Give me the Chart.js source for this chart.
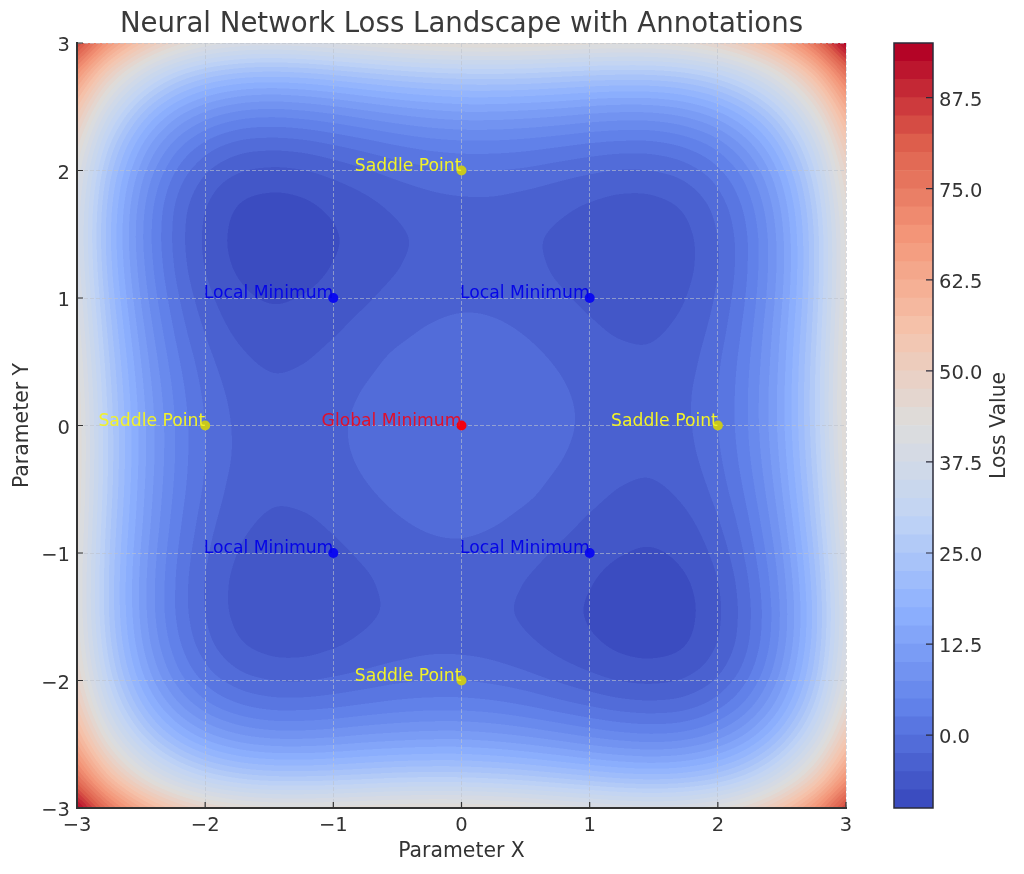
<!DOCTYPE html>
<html>
<head>
<meta charset="utf-8">
<title>Neural Network Loss Landscape</title>
<script src="https://cdn.jsdelivr.net/npm/chart.js@4/dist/chart.umd.min.js"></script>
<style>
  html, body { margin: 0; background: #fff; }
  canvas { position: absolute; left: 0; top: 0; }
</style>
</head>
<body>
<canvas id="landscape" width="1024" height="874"></canvas>
<canvas id="colorbar" width="1024" height="874"></canvas>
<script>
// loss values, one row per y (top row is y = 3), left to right x = -3..3
const gridX = [-3, -2.75, -2.5, -2.25, -2, -1.75, -1.5, -1.25, -1, -0.75, -0.5, -0.25, 0, 0.25, 0.5, 0.75, 1, 1.25, 1.5, 1.75, 2, 2.25, 2.5, 2.75, 3];
const gridY = [3, 2.75, 2.5, 2.25, 2, 1.75, 1.5, 1.25, 1, 0.75, 0.5, 0.25, 0, -0.25, -0.5, -0.75, -1, -1.25, -1.5, -1.75, -2, -2.25, -2.5, -2.75, -3];
const lossGrid = [
  [85.5,67.8,55.3,47.0,42.0,39.5,38.8,39.3,40.5,41.9,43.3,44.4,45.0,45.1,44.8,44.2,43.5,43.1,43.3,44.8,48.0,53.8,62.8,76.1,94.5],
  [67.8,50.1,37.6,29.2,24.2,21.7,20.9,21.4,22.6,24.0,25.3,26.3,26.9,27.0,26.7,26.0,25.3,24.9,25.1,26.5,29.7,35.4,44.4,57.7,76.1],
  [55.3,37.6,25.0,16.6,11.6,9.0,8.2,8.7,9.8,11.2,12.5,13.5,14.1,14.1,13.7,13.1,12.3,11.8,12.0,13.4,16.6,22.3,31.2,44.4,62.8],
  [47.0,29.2,16.6,8.2,3.1,0.5,-0.2,0.2,1.3,2.6,3.9,4.9,5.4,5.4,5.0,4.3,3.5,3.0,3.1,4.5,7.6,13.3,22.3,35.4,53.8],
  [42.0,24.2,11.6,3.1,-2.0,-4.6,-5.4,-5.1,-4.0,-2.7,-1.4,-0.5,0,0,-0.4,-1.2,-2.0,-2.6,-2.4,-1.1,2.0,7.6,16.6,29.7,48.0],
  [39.5,21.7,9.0,0.5,-4.6,-7.3,-8.1,-7.8,-6.7,-5.5,-4.2,-3.3,-2.9,-2.9,-3.4,-4.1,-5.0,-5.6,-5.5,-4.2,-1.1,4.5,13.4,26.5,44.8],
  [38.8,20.9,8.2,-0.2,-5.4,-8.1,-9.0,-8.7,-7.7,-6.4,-5.3,-4.4,-3.9,-4.0,-4.5,-5.3,-6.2,-6.8,-6.8,-5.5,-2.4,3.1,12.0,25.1,43.3],
  [39.3,21.4,8.7,0.2,-5.1,-7.8,-8.7,-8.4,-7.4,-6.2,-5.1,-4.2,-3.8,-3.9,-4.4,-5.3,-6.2,-6.8,-6.8,-5.6,-2.6,3.0,11.8,24.9,43.1],
  [40.5,22.6,9.8,1.3,-4.0,-6.7,-7.7,-7.4,-6.5,-5.3,-4.2,-3.4,-3.0,-3.1,-3.7,-4.6,-5.5,-6.2,-6.2,-5.0,-2.0,3.5,12.3,25.3,43.5],
  [41.9,24.0,11.2,2.6,-2.7,-5.5,-6.4,-6.2,-5.3,-4.1,-3.1,-2.3,-1.9,-2.1,-2.7,-3.6,-4.6,-5.3,-5.3,-4.1,-1.2,4.3,13.1,26.0,44.2],
  [43.3,25.3,12.5,3.9,-1.4,-4.2,-5.3,-5.1,-4.2,-3.1,-2.0,-1.3,-0.9,-1.1,-1.8,-2.7,-3.7,-4.4,-4.5,-3.4,-0.4,5.0,13.7,26.7,44.8],
  [44.4,26.3,13.5,4.9,-0.5,-3.3,-4.4,-4.2,-3.4,-2.3,-1.3,-0.5,-0.3,-0.5,-1.1,-2.1,-3.1,-3.9,-4.0,-2.9,0,5.4,14.1,27.0,45.1],
  [45.0,26.9,14.1,5.4,0,-2.9,-3.9,-3.8,-3.0,-1.9,-0.9,-0.3,0,-0.3,-0.9,-1.9,-3.0,-3.8,-3.9,-2.9,0,5.4,14.1,26.9,45.0],
  [45.1,27.0,14.1,5.4,0,-2.9,-4.0,-3.9,-3.1,-2.1,-1.1,-0.5,-0.3,-0.5,-1.3,-2.3,-3.4,-4.2,-4.4,-3.3,-0.5,4.9,13.5,26.3,44.4],
  [44.8,26.7,13.7,5.0,-0.4,-3.4,-4.5,-4.4,-3.7,-2.7,-1.8,-1.1,-0.9,-1.3,-2.0,-3.1,-4.2,-5.1,-5.3,-4.2,-1.4,3.9,12.5,25.3,43.3],
  [44.2,26.0,13.1,4.3,-1.2,-4.1,-5.3,-5.3,-4.6,-3.6,-2.7,-2.1,-1.9,-2.3,-3.1,-4.1,-5.3,-6.2,-6.4,-5.5,-2.7,2.6,11.2,24.0,41.9],
  [43.5,25.3,12.3,3.5,-2.0,-5.0,-6.2,-6.2,-5.5,-4.6,-3.7,-3.1,-3.0,-3.4,-4.2,-5.3,-6.5,-7.4,-7.7,-6.7,-4.0,1.3,9.8,22.6,40.5],
  [43.1,24.9,11.8,3.0,-2.6,-5.6,-6.8,-6.8,-6.2,-5.3,-4.4,-3.9,-3.8,-4.2,-5.1,-6.2,-7.4,-8.4,-8.7,-7.8,-5.1,0.2,8.7,21.4,39.3],
  [43.3,25.1,12.0,3.1,-2.4,-5.5,-6.8,-6.8,-6.2,-5.3,-4.5,-4.0,-3.9,-4.4,-5.3,-6.4,-7.7,-8.7,-9.0,-8.1,-5.4,-0.2,8.2,20.9,38.8],
  [44.8,26.5,13.4,4.5,-1.1,-4.2,-5.5,-5.6,-5.0,-4.1,-3.4,-2.9,-2.9,-3.3,-4.2,-5.5,-6.7,-7.8,-8.1,-7.3,-4.6,0.5,9.0,21.7,39.5],
  [48.0,29.7,16.6,7.6,2.0,-1.1,-2.4,-2.6,-2.0,-1.2,-0.4,0,0,-0.5,-1.4,-2.7,-4.0,-5.1,-5.4,-4.6,-2.0,3.1,11.6,24.2,42.0],
  [53.8,35.4,22.3,13.3,7.6,4.5,3.1,3.0,3.5,4.3,5.0,5.4,5.4,4.9,3.9,2.6,1.3,0.2,-0.2,0.5,3.1,8.2,16.6,29.2,47.0],
  [62.8,44.4,31.2,22.3,16.6,13.4,12.0,11.8,12.3,13.1,13.7,14.1,14.1,13.5,12.5,11.2,9.8,8.7,8.2,9.0,11.6,16.6,25.0,37.6,55.3],
  [76.1,57.7,44.4,35.4,29.7,26.5,25.1,24.9,25.3,26.0,26.7,27.0,26.9,26.3,25.3,24.0,22.6,21.4,20.9,21.7,24.2,29.2,37.6,50.1,67.8],
  [94.5,76.1,62.8,53.8,48.0,44.8,43.3,43.1,43.5,44.2,44.8,45.1,45.0,44.4,43.3,41.9,40.5,39.3,38.8,39.5,42.0,47.0,55.3,67.8,85.5]
];

// edges of the filled bands, same as the colorbar
const levels = [-10, -7.5, -5, -2.5, 0, 2.5, 5, 7.5, 10, 12.5, 15, 17.5, 20, 22.5, 25, 27.5, 30, 32.5, 35, 37.5, 40, 42.5, 45, 47.5, 50, 52.5, 55, 57.5, 60, 62.5, 65, 67.5, 70, 72.5, 75, 77.5, 80, 82.5, 85, 87.5, 90, 92.5, 95];
const colorbarTicks = [0, 12.5, 25, 37.5, 50, 62.5, 75, 87.5];
const axisTicks = [-3, -2, -1, 0, 1, 2, 3];

const pointX = [0, 1, -1, 1, -1, 2, -2, 0, 0];
const pointY = [0, 1, 1, -1, -1, 0, 0, 2, -2];
const pointLabels = ['Global Minimum', 'Local Minimum', 'Local Minimum', 'Local Minimum', 'Local Minimum', 'Saddle Point', 'Saddle Point', 'Saddle Point', 'Saddle Point'];
const pointColors = ['#f5000f', '#0a0af0', '#0a0af0', '#0a0af0', '#0a0af0', '#c8c81e', '#c8c81e', '#c8c81e', '#c8c81e'];
const labelColors = ['#e0102c', '#0505e6', '#0505e6', '#0505e6', '#0505e6', '#f2f228', '#f2f228', '#f2f228', '#f2f228'];

const inkColor = '#333333';
const fontFamily = '"DejaVu Sans", sans-serif';
const tickFont = { family: fontFamily, size: 19.5, lineHeight: '6px' };
const titleFont = { family: fontFamily, size: 20.4 };
const gridColor = 'rgba(190,195,205,0.6)';

// coolwarm colormap stops
const coolwarm = [[59, 76, 192], [98, 130, 234], [141, 176, 254], [192, 212, 245], [221, 221, 221], [245, 196, 173], [244, 152, 122], [222, 96, 77], [180, 4, 38]];

function bandColor(i) {
  const t = i / (levels.length - 2) * (coolwarm.length - 1);
  const k = Math.min(Math.floor(t), coolwarm.length - 2);
  const f = t - k;
  return coolwarm[k].map((c, n) => Math.round(c + (coolwarm[k + 1][n] - c) * f));
}
const bandColors = levels.slice(0, -1).map((_, i) => bandColor(i));

// smooth lookup between the grid nodes, only for painting the bands
function cubic(a, b, c, d, t) {
  return b + 0.5 * t * (c - a + t * (2 * a - 5 * b + 4 * c - d + t * (3 * (b - c) + d - a)));
}
function node(r, c) {
  const rr = Math.max(0, Math.min(gridY.length - 1, r));
  const cc = Math.max(0, Math.min(gridX.length - 1, c));
  let v = lossGrid[rr][cc];
  if (c !== cc) v = 2 * v - lossGrid[rr][cc + (c < cc ? 1 : -1)];
  if (r !== rr) v = 2 * v - lossGrid[rr + (r < rr ? 1 : -1)][cc];
  return v;
}
function lossAt(x, y) {
  const step = gridX[1] - gridX[0];
  const fc = (x - gridX[0]) / step;
  const fr = (gridY[0] - y) / step;
  const c = Math.min(Math.floor(fc), gridX.length - 2);
  const r = Math.min(Math.floor(fr), gridY.length - 2);
  const tc = fc - c, tr = fr - r;
  const col = [];
  for (let i = -1; i <= 2; i++) {
    col.push(cubic(node(r + i, c - 1), node(r + i, c), node(r + i, c + 1), node(r + i, c + 2), tc));
  }
  return cubic(col[0], col[1], col[2], col[3], tr);
}

let bandImage = null;
function paintBands(chart) {
  const area = chart.chartArea;
  const sx = chart.scales.x, sy = chart.scales.y;
  const w = Math.round(area.right - area.left), h = Math.round(area.bottom - area.top);
  const ss = 2;
  const off = document.createElement('canvas');
  off.width = w * ss; off.height = h * ss;
  const octx = off.getContext('2d');
  const img = octx.createImageData(off.width, off.height);
  for (let py = 0; py < off.height; py++) {
    const y = sy.getValueForPixel(area.top + (py + 0.5) / ss);
    for (let px = 0; px < off.width; px++) {
      const x = sx.getValueForPixel(area.left + (px + 0.5) / ss);
      const z = lossAt(x, y);
      let b = Math.floor((z - levels[0]) / (levels[1] - levels[0]));
      b = Math.max(0, Math.min(bandColors.length - 1, b));
      const o = (py * off.width + px) * 4;
      img.data[o] = bandColors[b][0];
      img.data[o + 1] = bandColors[b][1];
      img.data[o + 2] = bandColors[b][2];
      img.data[o + 3] = 255;
    }
  }
  octx.putImageData(img, 0, 0);
  bandImage = off;
}

const contourPlugin = {
  id: 'contour',
  beforeDraw(chart) {
    if (!bandImage) paintBands(chart);
    const a = chart.chartArea;
    chart.ctx.imageSmoothingEnabled = true;
    chart.ctx.imageSmoothingQuality = 'high';
    chart.ctx.drawImage(bandImage, a.left, a.top, a.right - a.left, a.bottom - a.top);
  },
  afterDatasetsDraw(chart) {
    const ctx = chart.ctx, sx = chart.scales.x, sy = chart.scales.y;
    ctx.save();
    ctx.font = '17.2px ' + fontFamily;
    ctx.textAlign = 'right';
    ctx.textBaseline = 'alphabetic';
    pointLabels.forEach((text, i) => {
      ctx.fillStyle = labelColors[i];
      ctx.fillText(text, sx.getPixelForValue(pointX[i]), sy.getPixelForValue(pointY[i]));
    });
    // ticks point inwards, over the picture
    ctx.strokeStyle = inkColor;
    ctx.lineWidth = 1.2;
    ctx.beginPath();
    axisTicks.forEach(v => {
      const px = sx.getPixelForValue(v), py = sy.getPixelForValue(v);
      ctx.moveTo(px, chart.chartArea.bottom);
      ctx.lineTo(px, chart.chartArea.bottom - 6);
      ctx.moveTo(chart.chartArea.left, py);
      ctx.lineTo(chart.chartArea.left + 6, py);
    });
    ctx.stroke();
    ctx.restore();
  }
};

new Chart(document.getElementById('landscape'), {
  type: 'scatter',
  plugins: [contourPlugin],
  data: {
    datasets: [{
      data: pointX.map((x, i) => ({ x: x, y: pointY[i] })),
      pointBackgroundColor: pointColors,
      pointBorderWidth: 0,
      pointRadius: 5
    }]
  },
  options: {
    responsive: false,
    animation: false,
    layout: { padding: { top: 0, right: 178, left: 0, bottom: 0 } },
    plugins: {
      legend: { display: false },
      tooltip: { enabled: false },
      title: {
        display: true,
        fullSize: false,
        text: 'Neural Network Loss Landscape with Annotations',
        color: '#3a3a3a',
        font: { family: fontFamily, size: 27.6, weight: 'normal', lineHeight: 1.2 },
        padding: { top: 8, bottom: 1.9 }
      }
    },
    scales: {
      x: {
        type: 'linear',
        min: -3,
        max: 3,
        afterFit(s) { s.height = 66; },
        afterBuildTicks(s) { s.ticks = axisTicks.map(v => ({ value: v })); },
        grid: { color: gridColor, lineWidth: 1, drawTicks: false },
        border: { display: true, color: inkColor, width: 2, dash: [4, 2] },
        ticks: {
          color: inkColor,
          padding: 6,
          maxRotation: 0,
          font: { family: fontFamily, size: 19.5 },
          callback: v => String(v).replace('-', '\u2212')
        },
        title: { display: true, text: 'Parameter X', color: inkColor, font: titleFont, padding: { top: 8, bottom: 10 } }
      },
      y: {
        type: 'linear',
        min: -3,
        max: 3,
        afterFit(s) { s.width = 77; },
        afterBuildTicks(s) { s.ticks = axisTicks.map(v => ({ value: v })); },
        grid: { color: gridColor, lineWidth: 1, drawTicks: false },
        border: { display: true, color: inkColor, width: 2, dash: [4, 2] },
        ticks: {
          color: inkColor,
          padding: 7,
          font: tickFont,
          // the empty first line drops the digits a little below the tick
          callback: v => ['', String(v).replace('-', '\u2212')]
        },
        title: { display: true, text: 'Parameter Y', color: inkColor, font: titleFont, padding: { top: 10, bottom: 0 } }
      }
    }
  }
});

const colorbarFrame = {
  id: 'colorbarFrame',
  afterDatasetsDraw(chart) {
    const ctx = chart.ctx, a = chart.chartArea, sy = chart.scales.y;
    ctx.save();
    ctx.strokeStyle = '#2b2b3a';
    ctx.lineWidth = 1.5;
    ctx.strokeRect(a.left, a.top, a.right - a.left, a.bottom - a.top);
    ctx.lineWidth = 1.2;
    ctx.beginPath();
    colorbarTicks.forEach(v => {
      ctx.moveTo(a.right, sy.getPixelForValue(v));
      ctx.lineTo(a.right - 7, sy.getPixelForValue(v));
    });
    ctx.stroke();
    // title reads bottom to top, unlike the library's right axis title
    ctx.translate(1000, (a.top + a.bottom) / 2);
    ctx.rotate(-Math.PI / 2);
    ctx.fillStyle = inkColor;
    ctx.font = '20.4px ' + fontFamily;
    ctx.textAlign = 'center';
    ctx.textBaseline = 'middle';
    ctx.fillText('Loss Value', 0, 0);
    ctx.restore();
  }
};

new Chart(document.getElementById('colorbar'), {
  type: 'bar',
  plugins: [colorbarFrame],
  data: {
    labels: ['Loss Value'],
    datasets: bandColors.map((c, i) => ({
      data: [[levels[i], levels[i + 1]]],
      backgroundColor: 'rgb(' + c.join(',') + ')',
      grouped: false,
      barPercentage: 1,
      categoryPercentage: 1,
      borderWidth: 0
    }))
  },
  options: {
    responsive: false,
    animation: false,
    layout: { padding: { top: 43, left: 894, right: 0, bottom: 66 } },
    plugins: { legend: { display: false }, tooltip: { enabled: false } },
    scales: {
      x: { display: false },
      y: {
        position: 'right',
        min: -10,
        max: 95,
        afterFit(s) { s.width = 91; },
        afterBuildTicks(s) { s.ticks = colorbarTicks.map(v => ({ value: v })); },
        grid: { display: false, drawTicks: false },
        border: { display: false },
        ticks: {
          color: inkColor,
          padding: 6,
          font: tickFont,
          callback: v => ['', Number(v).toFixed(1)]
        }
      }
    }
  }
});
</script>
</body>
</html>
